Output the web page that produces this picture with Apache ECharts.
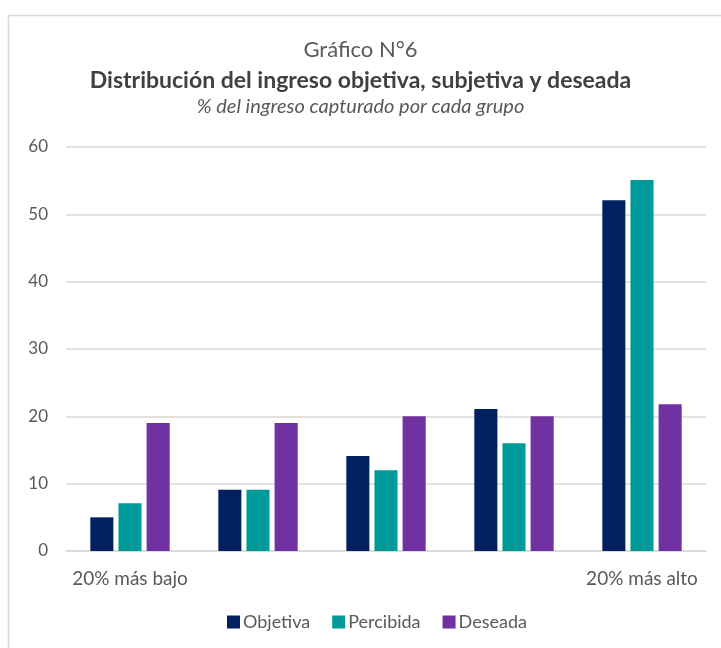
<!DOCTYPE html>
<html>
<head>
<meta charset="utf-8">
<script src="https://cdn.jsdelivr.net/npm/echarts@6/dist/echarts.min.js"></script>
<style>
  html, body { margin: 0; padding: 0; background: #fff; }
  #chart { width: 721px; height: 648px; }
</style>
</head>
<body>
<div id="chart"></div>
<script>
// categorías (solo la primera y la última llevan etiqueta)
const categories = ['20% más bajo', '', '', '', '20% más alto']
const objetiva = [5, 9.1, 14.1, 21.1, 52.1]
const percibida = [7.1, 9.1, 12, 16, 55.1]
const deseada = [19, 19, 20, 20, 21.8]
const yTicks = { min: 0, max: 60, interval: 10 }

const FONT = 'Lato, "Open Sans", sans-serif'
const GRAY = '#595959'

const chart = echarts.init(document.getElementById('chart'))

const option = {
  backgroundColor: '#ffffff',
  animation: false,
  textStyle: { fontFamily: FONT },
  graphic: [
    {
      // marco del gráfico (cortado a la derecha y abajo)
      type: 'rect',
      shape: { x: 8.5, y: 15.5, width: 760, height: 700 },
      style: { fill: 'none', stroke: '#d9d9d9', lineWidth: 1.5 },
      z: 0
    },
    {
      type: 'text',
      left: 'center',
      top: 39,
      style: { text: 'Gráfico N°6', fontSize: 22, fill: GRAY, fontFamily: FONT }
    },
    {
      type: 'text',
      left: 'center',
      top: 69,
      style: {
        text: 'Distribución del ingreso objetiva, subjetiva y deseada',
        fontSize: 23,
        fontWeight: 'bold',
        fill: '#404040',
        fontFamily: FONT
      }
    },
    {
      type: 'text',
      left: 'center',
      top: 97,
      style: {
        text: '% del ingreso capturado por cada grupo',
        fontSize: 20,
        fontStyle: 'italic',
        fill: GRAY,
        fontFamily: FONT
      }
    }
  ],
  legend: {
    bottom: 12,
    left: 222,
    itemWidth: 13,
    itemHeight: 13,
    itemGap: 22,
    icon: 'rect',
    textStyle: { color: GRAY, fontSize: 18, fontFamily: FONT, padding: [0, 0, 0, -2] }
  },
  grid: {
    left: 66,
    right: 15,
    top: 147,
    bottom: 97
  },
  xAxis: {
    type: 'category',
    data: categories,
    axisTick: { show: false },
    axisLine: { lineStyle: { color: '#d9d9d9', width: 1.5 } },
    axisLabel: {
      interval: 0,
      color: GRAY,
      fontSize: 19,
      margin: 18,
      fontFamily: FONT
    }
  },
  yAxis: {
    type: 'value',
    min: yTicks.min,
    max: yTicks.max,
    interval: yTicks.interval,
    axisLine: { show: false },
    axisTick: { show: false },
    splitLine: { lineStyle: { color: '#d9d9d9', width: 1.5 } },
    axisLabel: { color: GRAY, fontSize: 17, margin: 18, fontFamily: FONT }
  },
  series: [
    {
      name: 'Objetiva',
      type: 'bar',
      data: objetiva,
      barGap: '22%',
      barCategoryGap: '38%',
      itemStyle: { color: '#002060' }
    },
    {
      name: 'Percibida',
      type: 'bar',
      data: percibida,
      itemStyle: { color: '#009999' }
    },
    {
      name: 'Deseada',
      type: 'bar',
      data: deseada,
      itemStyle: { color: '#7030a0' }
    }
  ]
}

chart.setOption(option)
</script>
</body>
</html>
